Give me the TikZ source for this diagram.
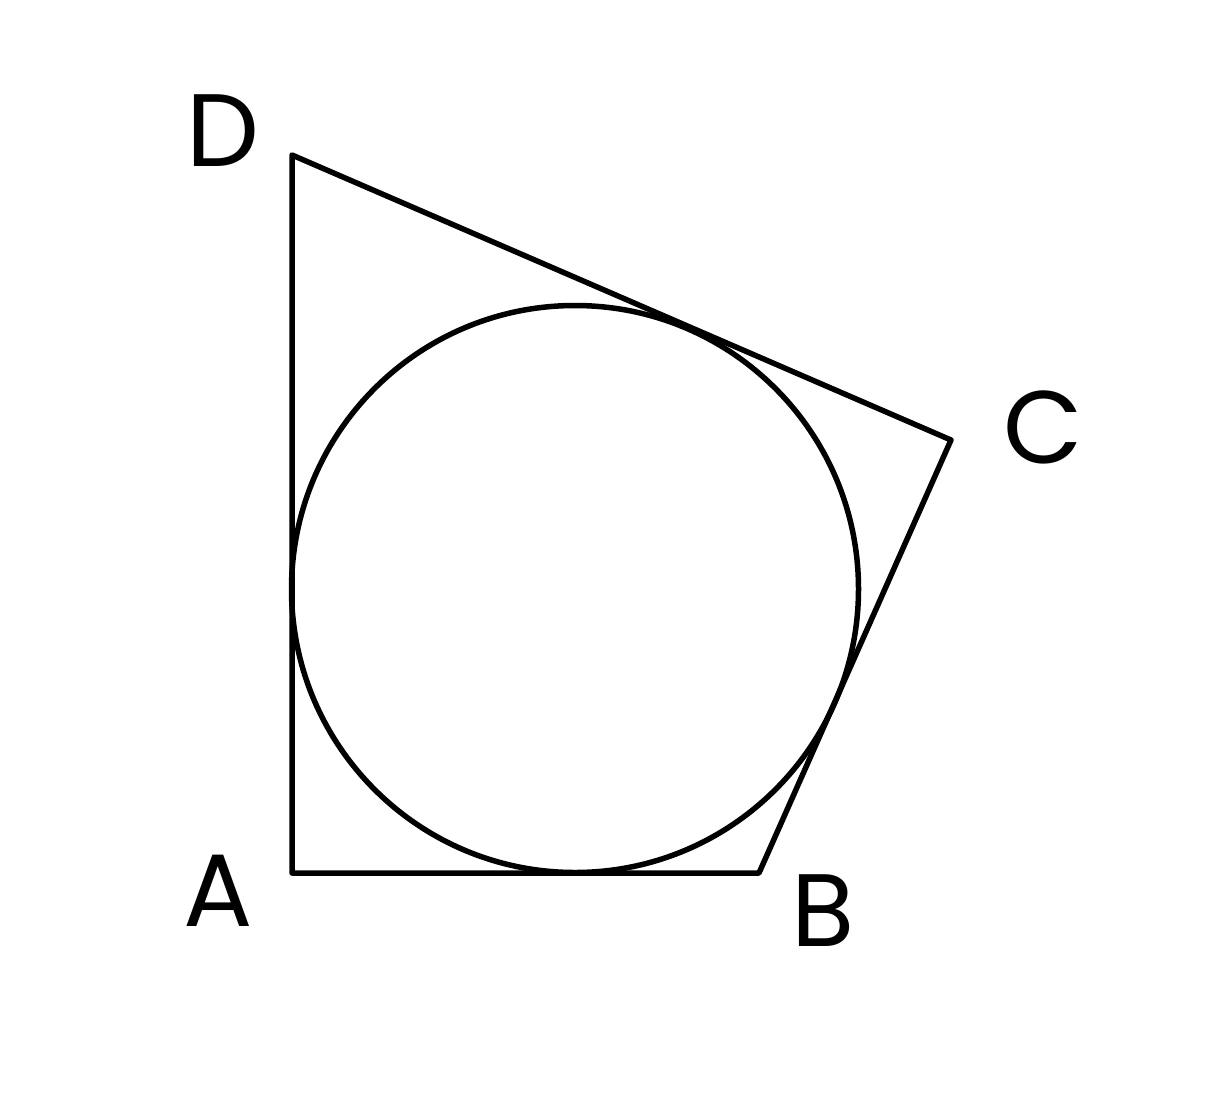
\documentclass[tikz,border=0pt]{standalone}
\usepackage{fontspec}
\setmainfont{Poppins}
\begin{document}
\begin{tikzpicture}[x=1pt,y=-1pt,
  edge/.style={line width=5.5pt,line join=round,line cap=round},
  lbl/.style={inner sep=0pt,font=\fontsize{103}{103}\selectfont}]
\useasboundingbox (0,0) rectangle (1212,1109);
\coordinate (A) at (292,873);
\coordinate (B) at (759,873);
\coordinate (C) at (951,440);
\coordinate (D) at (292,155);
\coordinate (O) at (575,589);
\draw[edge] (A) -- (B) -- (C) -- (D) -- cycle;
\draw[edge] (O) circle[radius=283.5];
\node[lbl] (lD) at (223,131) {D};
\node[lbl] (lC) at (1043,427) {C};
\node[lbl] (lB) at (823,911) {B};
\node[lbl] (lA) at (218,891) {A};
\end{tikzpicture}
\end{document}
